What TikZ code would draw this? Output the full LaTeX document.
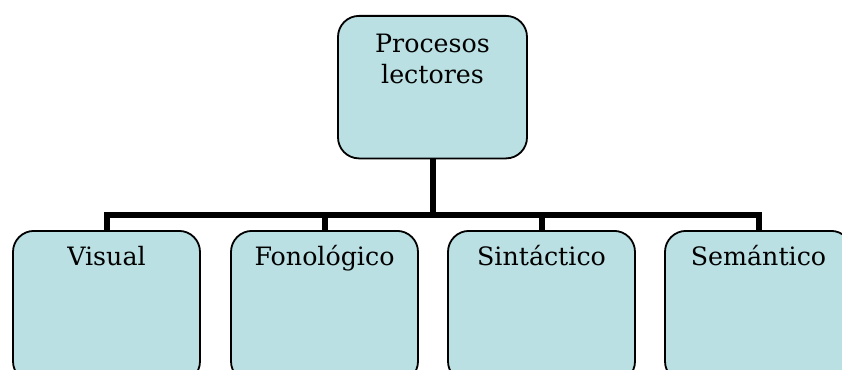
\documentclass[tikz,border=0pt]{standalone}
\usepackage{fontspec}
\setmainfont{DejaVu Serif}
\definecolor{boxfill}{RGB}{186,224,227}
\begin{document}
\begin{tikzpicture}[x=1pt,y=-1pt,
  box/.style={draw=black, line width=1.8pt, fill=boxfill, rounded corners=21pt,
    anchor=north, minimum width=187pt, inner xsep=0pt,
    font=\fontsize{25.3}{31}\selectfont, text height=18.5pt},
  topbox/.style={box, minimum width=189pt, align=center, inner ysep=18.5pt,
    text height=49.5pt, text depth=56pt},
  subbox/.style={box, inner ysep=16.5pt, text depth=100pt},
  conn/.style={line width=6pt, line join=miter, line cap=butt}]
\clip (0,0) rectangle (842,369);
\fill[white] (0,0) rectangle (842,369);
\node[topbox] (top) at (432.5,15) {Procesos\\lectores};
\node[subbox] (vis) at (106.5,230) {Visual};
\node[subbox] (fon) at (324.5,230) {Fonológico};
\node[subbox] (sin) at (541.5,230) {Sintáctico};
\node[subbox] (sem) at (758.5,230) {Semántico};
\coordinate (bus) at (432.5,215);
\draw[conn] (top.south) -- (top.south |- bus);
\draw[conn] (vis.north) -- (vis.north |- bus) -- (sem.north |- bus) -- (sem.north);
\draw[conn] (fon.north) -- (fon.north |- bus);
\draw[conn] (sin.north) -- (sin.north |- bus);
\end{tikzpicture}
\end{document}
